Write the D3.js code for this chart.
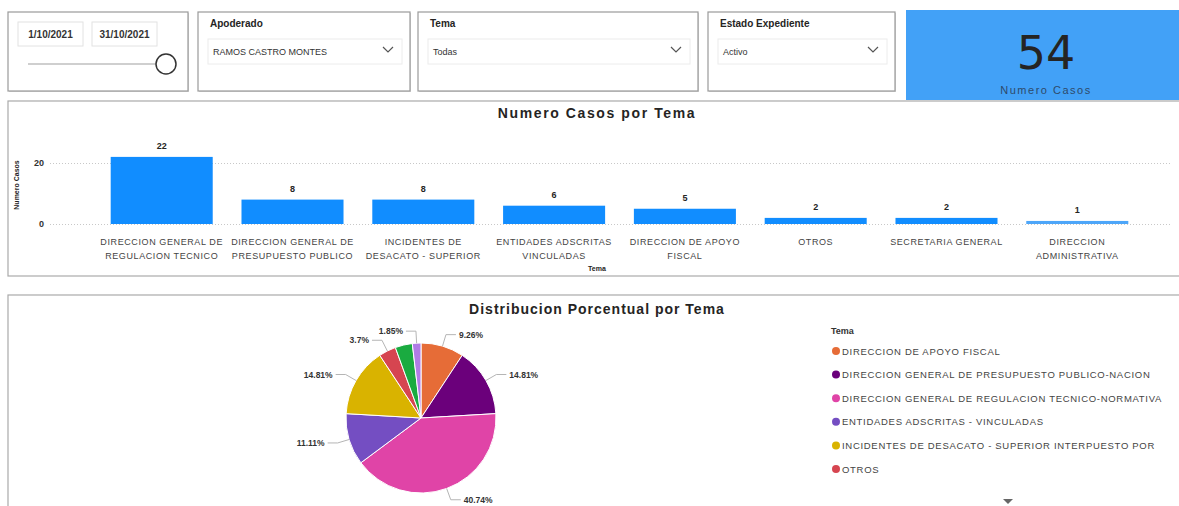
<!DOCTYPE html>
<html>
<head>
<meta charset="utf-8">
<script src="https://cdn.jsdelivr.net/npm/d3@7"></script>
<style>
  body { margin: 0; background: #fff; }
  svg text { font-family: "Liberation Sans", Arial, sans-serif; }
</style>
</head>
<body>
<div id="chart"></div>
<script>
// values
var temas = [
  ["DIRECCION GENERAL DE", "REGULACION TECNICO"],
  ["DIRECCION GENERAL DE", "PRESUPUESTO PUBLICO"],
  ["INCIDENTES DE", "DESACATO - SUPERIOR"],
  ["ENTIDADES ADSCRITAS", "VINCULADAS"],
  ["DIRECCION DE APOYO", "FISCAL"],
  ["OTROS"],
  ["SECRETARIA GENERAL"],
  ["DIRECCION", "ADMINISTRATIVA"]
];
var casos = [22, 8, 8, 6, 5, 2, 2, 1];
var yTicks = [0, 20];

// pie in the order it is drawn (clockwise from the top)
var pieNames = [
  "DIRECCION DE APOYO FISCAL",
  "DIRECCION GENERAL DE PRESUPUESTO PUBLICO-NACION",
  "DIRECCION GENERAL DE REGULACION TECNICO-NORMATIVA",
  "ENTIDADES ADSCRITAS - VINCULADAS",
  "INCIDENTES DE DESACATO - SUPERIOR INTERPUESTO POR",
  "OTROS",
  "SECRETARIA GENERAL",
  "DIRECCION ADMINISTRATIVA"
];
var pieValues = [5, 8, 22, 6, 8, 2, 2, 1];
var pieColors = ["#E66C37", "#6B007B", "#E044A7", "#744EC2", "#D9B300", "#D64550", "#1AAB40", "#B07CE6"];
var legendCount = 6; // rows visible before the scroll arrow

var totalCasos = d3.sum(casos);

var svg = d3.select("#chart").append("svg")
  .attr("width", 1179)
  .attr("height", 506);

// ---------- top row: slicers + card ----------
function box(x, y, w, h) {
  svg.append("rect")
    .attr("x", x + 1).attr("y", y + 1).attr("width", w).attr("height", h)
    .style("fill", "#d8d8d8");
  svg.append("rect")
    .attr("x", x).attr("y", y).attr("width", w).attr("height", h)
    .style("fill", "#fff").style("stroke", "#9a9a9a").style("stroke-width", 1.2);
}

// date slicer
box(8, 12, 180, 79);
[["1/10/2021", 18, 22, 65], ["31/10/2021", 92, 22, 65]].forEach(function(b) {
  svg.append("rect").attr("x", b[1]).attr("y", b[2]).attr("width", b[3]).attr("height", 24)
    .style("fill", "#fff").style("stroke", "#e2e2e2");
  svg.append("text").text(b[0]).attr("x", b[1] + b[3] / 2).attr("y", b[2] + 16)
    .attr("text-anchor", "middle").style("font-size", "10px").style("font-weight", "bold").style("fill", "#333");
});
svg.append("line").attr("x1", 28).attr("x2", 156).attr("y1", 64).attr("y2", 64)
  .style("stroke", "#cfcfcf").style("stroke-width", 2);
svg.append("circle").attr("cx", 166).attr("cy", 64).attr("r", 10)
  .style("fill", "#fff").style("stroke", "#333").style("stroke-width", 1.5);

// dropdown slicers
var slicers = [
  {x: 198, w: 212, title: "Apoderado", value: "RAMOS CASTRO MONTES"},
  {x: 418, w: 280, title: "Tema", value: "Todas"},
  {x: 708, w: 187, title: "Estado Expediente", value: "Activo"}
];
slicers.forEach(function(s) {
  box(s.x, 12, s.w, 79);
  svg.append("text").text(s.title).attr("x", s.x + 12).attr("y", 27)
    .style("font-size", "10px").style("font-weight", "bold").style("fill", "#252423");
  svg.append("rect").attr("x", s.x + 10).attr("y", 39).attr("width", s.w - 18).attr("height", 25)
    .style("fill", "#fff").style("stroke", "#ececec");
  svg.append("text").text(s.value).attr("x", s.x + 15).attr("y", 55)
    .style("font-size", "9px").style("fill", "#333");
  var cx = s.x + s.w - 22;
  svg.append("path").attr("d", "M" + (cx - 5) + ",47 L" + cx + ",52 L" + (cx + 5) + ",47")
    .style("fill", "none").style("stroke", "#555").style("stroke-width", 1.2);
});

// KPI card
svg.append("rect").attr("x", 906).attr("y", 10).attr("width", 273).attr("height", 90)
  .style("fill", "#42A1F7");
svg.append("text").text(totalCasos).attr("x", 1046).attr("y", 69)
  .attr("text-anchor", "middle").style("font-size", "46px").style("fill", "#252423")
  .style("font-family", "'DejaVu Sans', sans-serif");
svg.append("text").text("Numero Casos").attr("x", 1046).attr("y", 94)
  .attr("text-anchor", "middle").style("font-size", "11px").style("letter-spacing", "1.5px").style("fill", "#2e4a6a");

// ---------- bar chart ----------
svg.append("rect").attr("x", 8).attr("y", 101).attr("width", 1175).attr("height", 175)
  .style("fill", "#fff").style("stroke", "#aaa").style("stroke-width", 1.2);
svg.append("text").text("Numero Casos por Tema").attr("x", 597).attr("y", 118)
  .attr("text-anchor", "middle").style("font-size", "14px").style("font-weight", "bold")
  .style("letter-spacing", "1.6px").style("fill", "#252423");

var x = d3.scaleBand()
  .domain(d3.range(casos.length))
  .range([95, 1144])
  .paddingInner(0.22)
  .paddingOuter(0.12);
var y = d3.scaleLinear().domain([0, 20]).range([224, 163]);

var yAxis = svg.append("g").attr("transform", "translate(50,0)")
  .call(d3.axisLeft(y).tickValues(yTicks).tickSize(-1120).tickFormat(d3.format("d")));
yAxis.select(".domain").remove();
yAxis.selectAll("line").style("stroke", "#c8c8c8").style("stroke-dasharray", "1,2");
yAxis.selectAll("text").attr("x", -6).style("font-size", "9px").style("font-weight", "bold").style("fill", "#333");

svg.append("text").text("Numero Casos")
  .attr("transform", "translate(19,185) rotate(-90)")
  .attr("text-anchor", "middle").style("font-size", "7px").style("font-weight", "bold").style("fill", "#252423");

svg.selectAll(".bar").data(casos).enter().append("rect")
  .attr("class", "bar")
  .attr("x", function(d, i) { return x(i); })
  .attr("y", function(d) { return y(d); })
  .attr("width", x.bandwidth())
  .attr("height", function(d) { return y(0) - y(d); })
  .style("fill", function(d, i) { return i == casos.length - 1 ? "#4DA6F9" : "#118DFF"; });

svg.selectAll(".val").data(casos).enter().append("text")
  .attr("class", "val")
  .text(function(d) { return d; })
  .attr("x", function(d, i) { return x(i) + x.bandwidth() / 2; })
  .attr("y", function(d) { return y(d) - 8; })
  .attr("text-anchor", "middle").style("font-size", "9px").style("font-weight", "bold").style("fill", "#252423");

var xl = svg.selectAll(".xl").data(temas).enter().append("text")
  .attr("class", "xl")
  .attr("x", function(d, i) { return x(i) + x.bandwidth() / 2; })
  .attr("y", 245)
  .attr("text-anchor", "middle").style("font-size", "9px")
  .style("letter-spacing", "0.6px").style("fill", "#444");
xl.selectAll("tspan").data(function(d) { return d; }).enter().append("tspan")
  .attr("x", function() { return d3.select(this.parentNode).attr("x"); })
  .attr("dy", function(d, i) { return i == 0 ? 0 : 14; })
  .text(function(d) { return d; });

svg.append("text").text("Tema").attr("x", 597).attr("y", 271)
  .attr("text-anchor", "middle").style("font-size", "7px").style("font-weight", "bold").style("fill", "#252423");

// ---------- pie ----------
svg.append("rect").attr("x", 8).attr("y", 295).attr("width", 1175).attr("height", 220)
  .style("fill", "#fff").style("stroke", "#aaa").style("stroke-width", 1.2);
svg.append("text").text("Distribucion Porcentual por Tema").attr("x", 597).attr("y", 314)
  .attr("text-anchor", "middle").style("font-size", "14px").style("font-weight", "bold")
  .style("letter-spacing", "1px").style("fill", "#252423");

var cx = 421, cy = 418, r = 75;
var pieTotal = d3.sum(pieValues);
var arcs = d3.pie().sort(null)(pieValues);
var arc = d3.arc().innerRadius(0).outerRadius(r);
var pg = svg.append("g").attr("transform", "translate(" + cx + "," + cy + ")");

pg.selectAll("path").data(arcs).enter().append("path")
  .attr("d", arc)
  .style("fill", function(d, i) { return pieColors[i]; })
  .style("stroke", "#fff").style("stroke-width", 1);

// labels with leader lines, skip the ones that would collide
var placed = [];
arcs.forEach(function(d, i) {
  var a = (d.startAngle + d.endAngle) / 2;
  var p0 = [Math.sin(a) * r, -Math.cos(a) * r];
  var p1 = [Math.sin(a) * (r + 12), -Math.cos(a) * (r + 12)];
  var right = p1[0] >= 0;
  var p2 = [p1[0] + (right ? 10 : -10), p1[1]];
  var txt = d3.format(".2f")(100 * d.value / pieTotal).replace(/\.?0+$/, "") + "%";
  var w = txt.length * 5;
  var bx = right ? p2[0] + 3 : p2[0] - 3 - w;
  var hit = placed.some(function(b) {
    return bx < b[0] + b[2] && b[0] < bx + w && Math.abs(p2[1] - b[1]) < 10;
  });
  if (hit) return;
  placed.push([bx, p2[1], w]);
  pg.append("polyline").attr("points", [p0, p1, p2].join(" "))
    .style("fill", "none").style("stroke", "#b5b5b5").style("stroke-width", 1);
  pg.append("text").text(txt)
    .attr("x", right ? p2[0] + 3 : p2[0] - 3)
    .attr("y", p2[1] + 3)
    .attr("text-anchor", right ? "start" : "end")
    .style("font-size", "8.5px").style("font-weight", "bold").style("fill", "#333");
});

// legend
svg.append("text").text("Tema").attr("x", 831).attr("y", 334)
  .style("font-size", "9px").style("font-weight", "bold").style("fill", "#333");
var lg = svg.selectAll(".lg").data(pieNames.slice(0, legendCount)).enter().append("g")
  .attr("class", "lg")
  .attr("transform", function(d, i) { return "translate(836," + (351 + i * 23.6) + ")"; });
lg.append("circle").attr("r", 4).style("fill", function(d, i) { return pieColors[i]; });
lg.append("text").text(function(d) { return d; }).attr("x", 6).attr("y", 3.5)
  .style("font-size", "9.5px").style("letter-spacing", "0.7px").style("fill", "#444");
svg.append("path").attr("d", "M1003,499 L1013,499 L1008,504 Z").style("fill", "#666");
</script>
</body>
</html>
